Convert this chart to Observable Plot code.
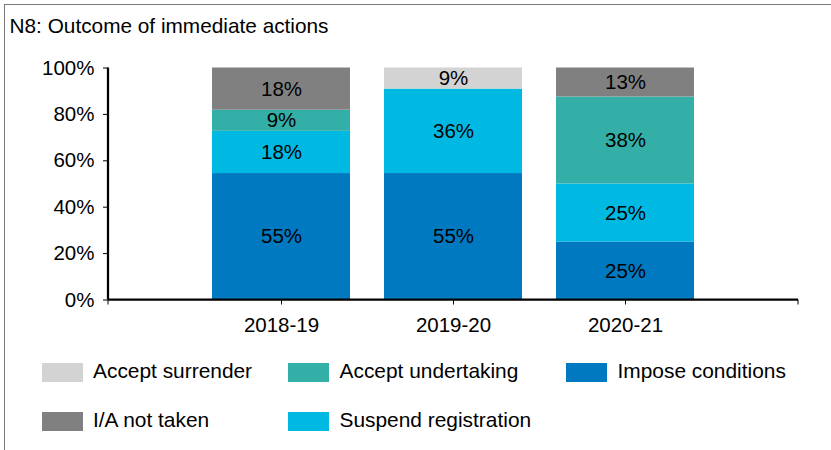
<!DOCTYPE html>
<html>
<head>
<meta charset="utf-8">
<script src="https://cdn.jsdelivr.net/npm/d3@7"></script>
<script src="https://cdn.jsdelivr.net/npm/@observablehq/plot@0.6"></script>
<style>
  html, body { margin: 0; padding: 0; background: #fff; }
  #wrap { position: relative; width: 831px; height: 450px; overflow: hidden;
          font-family: "Liberation Sans", Arial, sans-serif; color: #000; }
  #chart { position: absolute; left: 0; top: 50px; }
  #border { position: absolute; left: 3.5px; top: 3.5px; right: -10px; bottom: -10px;
            border-left: 1.5px solid #7a7a7a; border-top: 1.5px solid #7a7a7a; pointer-events: none; }
  #title { position: absolute; left: 9.5px; top: 16.4px; font-size: 20.8px; line-height: 20.8px; white-space: nowrap; }
  .sw { position: absolute; width: 41px; height: 19.5px; }
  .lt { position: absolute; font-size: 20.9px; line-height: 20.9px; white-space: nowrap; }
</style>
</head>
<body>
<div id="wrap">
  <div id="title">N8: Outcome of immediate actions</div>
  <div id="chart"></div>
  <div id="legend"></div>
  <div id="border"></div>
</div>
<script>
// ---- data ----
const years = ["2018-19", "2019-20", "2020-21"];
const series = ["Impose conditions", "Suspend registration", "Accept undertaking", "Accept surrender", "I/A not taken"];
const seriesColors = ["#0079c1", "#00b9e3", "#33afa7", "#d3d3d3", "#808080"];
const imposeConditions    = [54.5, 54.5, 25];
const suspendRegistration = [18.2, 36.4, 25];
const acceptUndertaking   = [9.1, 0, 37.5];
const acceptSurrender     = [0, 9.1, 0];
const iaNotTaken          = [18.2, 0, 12.5];
const yTicks = [0, 20, 40, 60, 80, 100];
const legendOrder = ["Accept surrender", "Accept undertaking", "Impose conditions", "I/A not taken", "Suspend registration"];

const valuesBySeries = [imposeConditions, suspendRegistration, acceptUndertaking, acceptSurrender, iaNotTaken];
const rows = [];
years.forEach((year, i) => {
  series.forEach((s, j) => {
    const v = valuesBySeries[j][i];
    if (v > 0) rows.push({year, series: s, value: v});
  });
});
const colorOf = new Map(series.map((s, i) => [s, seriesColors[i]]));

function axisLines(index, scales, values, dims) {
  const l = dims.marginLeft, t = dims.marginTop, w = dims.width, h = dims.height;
  const r = dims.marginRight, b = dims.marginBottom;
  const g = d3.create("svg:g").attr("stroke", "#000").attr("fill", "none");
  g.append("line").attr("x1", l).attr("x2", l).attr("y1", t).attr("y2", h - b).attr("stroke-width", 2.25);
  g.append("line").attr("x1", l).attr("x2", w - r).attr("y1", h - b).attr("y2", h - b).attr("stroke-width", 2.25);
  g.append("line").attr("x1", l).attr("x2", l).attr("y1", h - b).attr("y2", h - b + 5).attr("stroke-width", 1);
  g.append("line").attr("x1", w - r).attr("x2", w - r).attr("y1", h - b).attr("y2", h - b + 5).attr("stroke-width", 1);
  return g.node();
}

const chart = Plot.plot({
  width: 831,
  height: 300,
  marginTop: 17.5,
  marginBottom: 50.5,
  marginLeft: 108,
  marginRight: 33,
  style: { background: "transparent", fontFamily: "'Liberation Sans', Arial, sans-serif", fontSize: "20.5px", color: "#000" },
  x: { domain: years, paddingInner: 0.2, paddingOuter: 0.6, label: null, tickSize: 5, tickPadding: 12.5 },
  y: { domain: [0, 100], ticks: yTicks, tickFormat: d => d + "%", label: null, tickSize: 5, tickPadding: 9 },
  color: { domain: series, range: seriesColors },
  marks: [
    Plot.barY(rows, Plot.stackY({ x: "year", y: "value", fill: "series", order: series })),
    Plot.text(rows, Plot.stackY({ x: "year", y: "value", z: "series", order: series,
      text: d => Math.round(d.value) + "%", fill: "#000", fontSize: 20.5 })),
    axisLines
  ]
});
document.getElementById("chart").appendChild(chart);

// ---- legend ----
const colX = [41.5, 288, 566];
const rowTop = [362.7, 411.7];
const legend = d3.select("#legend");
legendOrder.forEach((s, i) => {
  const x = colX[i % 3], y = rowTop[Math.floor(i / 3)];
  legend.append("div").attr("class", "sw")
    .style("left", x + "px").style("top", y + "px").style("background", colorOf.get(s));
  legend.append("div").attr("class", "lt")
    .style("left", (x + 51.5) + "px").style("top", (y - 1.4) + "px").text(s);
});
</script>
</body>
</html>
